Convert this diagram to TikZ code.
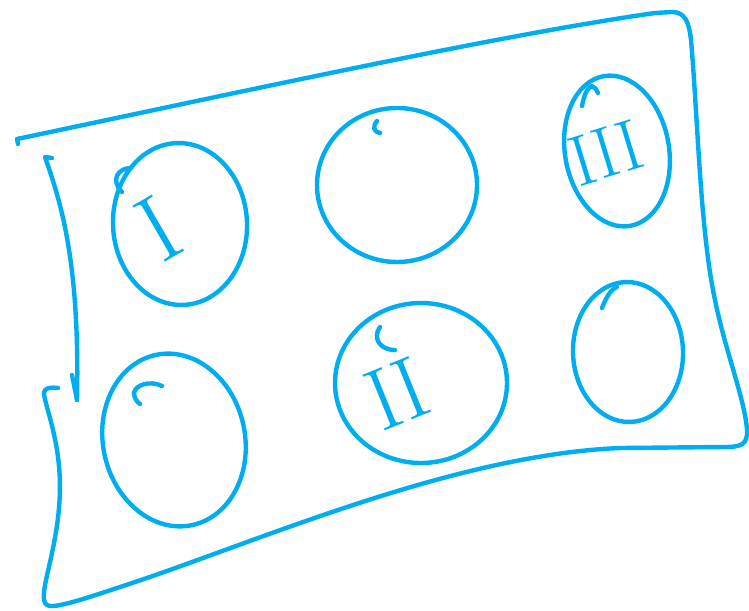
\documentclass[tikz,border=0pt]{standalone}
\usepackage{tikz}
\usetikzlibrary{arrows.meta, calc}
\definecolor{penblue}{RGB}{0,174,239}

\begin{document}
\begin{tikzpicture}[x=1pt, y=-1pt,
    ink/.style={draw=penblue, line width=4.4pt, line cap=round, line join=round},
    numeral/.style={text=penblue, inner sep=0pt}]
    \useasboundingbox (0,0) rectangle (749,610);

    \draw[ink] (18,144) -- (17,139) .. controls (250,90) and (500,35) .. (655,13)
        -- (672,12) .. controls (685,12) and (689,22) .. (691,40)
        .. controls (698,120) and (700,230) .. (715,300)
        .. controls (725,350) and (745,400) .. (747,430)
        .. controls (748,445) and (740,447) .. (725,447) -- (620,448)
        .. controls (450,455) and (250,545) .. (120,587)
        .. controls (90,597) and (60,607) .. (50,606)
        .. controls (42,605) and (43,595) .. (46,580)
        .. controls (55,540) and (65,500) .. (57,450)
        .. controls (52,420) and (44,400) .. (44,393)
        .. controls (44,388) and (50,387) .. (58,388);

    \coordinate (curltop) at (45,157);
    \coordinate (curlend) at (77,400);
    \draw[ink] (52,158) -- (curltop) .. controls (60,200) and (80,260) .. (curlend);
    \draw[ink] (72,375) -- (curlend);

    \foreach \cx/\cy/\rx/\ry/\rot in {180/224/67/81/3, 397/185/80/77/0, 617/151/52/76/10,
                                      174/440/71/87/12, 421/383/86/80/0, 628/352/55/70/2}
        \draw[ink, rotate around={\rot:(\cx,\cy)}] (\cx,\cy) ellipse [x radius=\rx, y radius=\ry];

    \draw[ink] (122,192) .. controls (110,180) and (118,168) .. (131,168);
    \draw[ink] (377,121) .. controls (372,127) and (374,132) .. (380,133);
    \draw[ink] (582,106) .. controls (584,95) and (587,88) .. (592,86)
        .. controls (595,87) and (597,90) .. (598,93);
    \draw[ink] (162,386) .. controls (150,380) and (135,385) .. (134,393)
        .. controls (134,398) and (137,402) .. (140,404);
    \draw[ink] (380,327) .. controls (372,338) and (380,350) .. (395,350);
    \draw[ink] (602,308) .. controls (606,298) and (610,290) .. (617,287);

    \node[numeral, rotate=30] (numI) at (159,229) {\fontsize{95}{95}\selectfont I};
    \node[numeral, rotate=22] (numII) at (397,394) {\fontsize{88}{88}\selectfont I\kern1pt I};
    \node[numeral, rotate=17] (numIII) at (606,153) {\fontsize{72}{72}\selectfont I\kern1pt I\kern1pt I};
\end{tikzpicture}
\end{document}
